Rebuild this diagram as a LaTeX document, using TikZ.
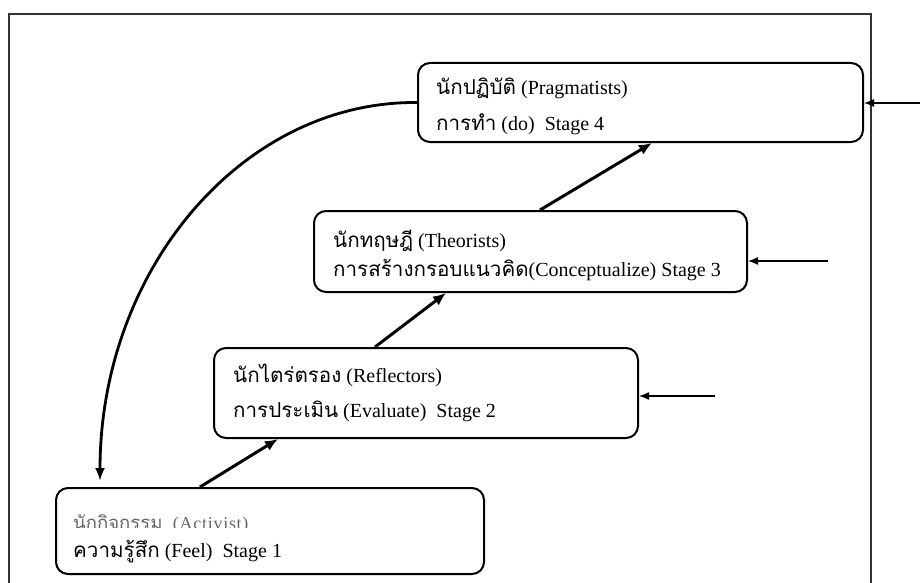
\documentclass[tikz,border=0pt]{standalone}
\usepackage{fontspec}
\setmainfont{Liberation Serif}
\newfontfamily\thai[Script=Thai,Scale=1.03]{Loma}
\usetikzlibrary{arrows.meta}

\begin{document}
\begin{tikzpicture}[x=1pt,y=-1pt,
  stagebox/.style={draw=black, line width=2pt, rounded corners=12pt,
    rectangle, anchor=north west, inner sep=0pt},
  label/.style={anchor=base west, inner sep=0pt, font=\fontsize{20}{24}\selectfont},
  flow/.style={line width=3pt, -{Latex[length=13pt,width=11pt]}},
  feed/.style={line width=1.3pt, -{Latex[length=10pt,width=8pt]}},
  loop/.style={line width=2.8pt, -{Latex[length=13pt,width=10pt]}}]

  % canvas
  \useasboundingbox (0,0) rectangle (920,583);
  \fill[white] (0,0) rectangle (920,583);

  % open frame (no bottom edge)
  \draw[line width=1.5pt, black!80] (9,583) -- (9,14) -- (871,14) -- (871,583);

  % the four stages
  \node[stagebox, minimum width=445pt, minimum height=79pt] (prag) at (417,62) {};
  \node[stagebox, minimum width=433pt, minimum height=81pt] (theo) at (313,210) {};
  \node[stagebox, minimum width=424pt, minimum height=90pt] (refl) at (213,347) {};
  \node[stagebox, minimum width=428pt, minimum height=86pt] (act)  at (55,487) {};

  % stage texts
  \node[label] (prag1) at (436,95)  {{\thai นักปฏิบัติ} (Pragmatists)};
  \node[label] (prag2) at (436,131) {{\thai การทำ} (do)\ \ Stage 4};
  \node[label] (theo1) at (333,247) {{\thai นักทฤษฎี} (Theorists)};
  \node[label] (theo2) at (333,276) {{\thai การสร้างกรอบแนวคิด}(Conceptualize) Stage 3};
  \node[label] (refl1) at (233,382) {{\thai นักไตร่ตรอง} (Reflectors)};
  \node[label] (refl2) at (233,417) {{\thai การประเมิน} (Evaluate)\ \ Stage 2};
  \begin{scope}
    \clip (60,500) rectangle (400,527);
    \node[label, text=black!60, font=\fontsize{18}{22}\selectfont\addfontfeature{LetterSpace=4}] (act1) at (73,529)
      {{\thai นักกิจกรรม}\ \ (Activist)};
  \end{scope}
  \node[label] (act2) at (73,557) {{\thai ความรู้สึก} (Feel)\ \ Stage 1};

  % stage-to-stage arrows
  \draw[flow] ([xshift=145pt]act.north west) -- ([xshift=65pt]refl.south west);
  \draw[flow] ([xshift=162pt]refl.north west) -- ([xshift=133pt]theo.south west);
  \draw[flow] ([xshift=227pt]theo.north west) -- ([xshift=235pt]prag.south west);

  % return loop from stage 4 back to stage 1
  \coordinate (loopend) at (100,481);
  \draw[loop] (prag.west) .. controls (242,101) and (100,270) .. (loopend);

  % inputs from the right
  \coordinate (in4) at (920,103);
  \coordinate (in3) at (828,261);
  \coordinate (in2) at (715,396);
  \draw[feed] (in4) -- (in4 -| prag.east);
  \draw[feed] (in3) -- (in3 -| theo.east);
  \draw[feed] (in2) -- (in2 -| refl.east);
\end{tikzpicture}
\end{document}
